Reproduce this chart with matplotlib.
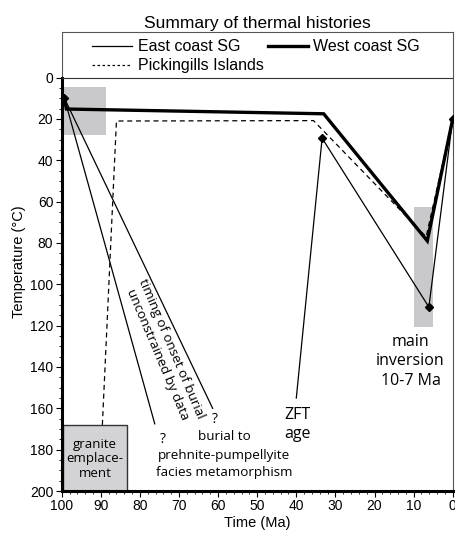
import matplotlib
matplotlib.use("Agg")
import matplotlib.pyplot as plt
from matplotlib.lines import Line2D
from matplotlib.patches import Rectangle
from matplotlib.ticker import MultipleLocator, FixedLocator

# ---- data (Time in Ma, Temperature in °C) ----
west_x = [99.3, 98.8, 33.0, 6.5, 0.0]
west_y = [10.0, 15.2, 17.5, 79.0, 20.0]

east1_x = [99.3, 76.2]
east1_y = [10.0, 167.5]
east2_x = [99.3, 61.4]
east2_y = [10.0, 160.0]
east3_x = [40.0, 33.4, 6.1, 0.0]
east3_y = [155.0, 29.3, 111.0, 20.0]

diamond_x = [99.3, 33.4, 6.1, 0.0]
diamond_y = [10.0, 29.3, 111.0, 20.0]

pick_x = [89.6, 86.0, 35.6, 6.8, 0.0]
pick_y = [168.0, 21.0, 20.8, 77.0, 20.0]

# shaded boxes: (x_old, x_young, T_top, T_bottom)
box_early = (100.0, 88.7, 4.5, 27.7)
box_inversion = (10.0, 5.0, 62.4, 120.7)
box_granite = (99.7, 83.2, 168.0, 200.0)

xticks = [100, 90, 80, 70, 60, 50, 40, 30, 20, 10, 0]
yticks = [0, 20, 40, 60, 80, 100, 120, 140, 160, 180, 200]

ann_font = ["Open Sans", "DejaVu Sans"]
ax_font = ["Liberation Sans", "DejaVu Sans"]
plt.rcParams['font.family'] = ax_font

fig = plt.figure(figsize=(4.56, 5.34), dpi=100)
ax = fig.add_axes([0.1353, 0.0805, 0.8575, 0.8601])
ax.set_xlim(100, 0)
ax.set_ylim(200, -22.2)

gray = "#c9c9cb"
# shaded boxes
x0, x1, t0, t1 = box_early
ax.add_patch(Rectangle((x1, t0), x0 - x1, t1 - t0, facecolor=gray, edgecolor="none", zorder=1))
x0, x1, t0, t1 = box_inversion
ax.add_patch(Rectangle((x1, t0), x0 - x1, t1 - t0, facecolor=gray, edgecolor="none", zorder=1))
x0, x1, t0, t1 = box_granite
ax.add_patch(Rectangle((x1, t0), x0 - x1, t1 - t0, facecolor="#d3d3d5", edgecolor="#333333",
                       linewidth=1.0, zorder=2))

# lines
ax.plot(west_x, west_y, color="black", linewidth=2.4, solid_joinstyle="miter", zorder=4)
for xs, ys in [(east1_x, east1_y), (east2_x, east2_y), (east3_x, east3_y)]:
    ax.plot(xs, ys, color="black", linewidth=0.9, zorder=4)
ax.plot(pick_x, pick_y, color="black", linewidth=0.9, linestyle=(0, (4, 3)), zorder=4)
ax.plot(diamond_x, diamond_y, linestyle="none", marker="D", markersize=4.5,
        color="black", zorder=5)

# frame
ax.axhline(0, color="#333333", linewidth=0.8, zorder=3)
for s in ["top", "right"]:
    ax.spines[s].set_linewidth(0.8)
    ax.spines[s].set_color("#555555")
ax.spines["bottom"].set_linewidth(2.2)
ax.spines["left"].set_linewidth(2.2)
ax.spines["left"].set_bounds(0, 200)
ax.axvline(100, ymin=200 / 222.2, ymax=1, color="#555555", linewidth=0.8)

ax.set_xticks(xticks)
ax.set_yticks(yticks)
ax.xaxis.set_minor_locator(MultipleLocator(2))
ax.yaxis.set_minor_locator(FixedLocator([v for v in range(5, 200, 5) if v % 20]))
ax.tick_params(axis="both", which="major", labelsize=10, length=4, width=0.8, direction="out", pad=2)
ax.tick_params(axis="both", which="minor", length=2, width=0.6, direction="out")

ax.set_xlabel("Time (Ma)", fontsize=10.5, labelpad=2)
ax.set_ylabel("Temperature (°C)", fontsize=10.5, labelpad=3)
ax.set_title("Summary of thermal histories", fontsize=12.5, pad=3)

# legend
handles = [Line2D([], [], color="black", linewidth=0.9),
           Line2D([], [], color="black", linewidth=0.9, linestyle=(0, (2, 2))),
           Line2D([], [], color="black", linewidth=2.4)]
labels = ["East coast SG", "Pickingills Islands", "West coast SG"]
ax.legend(handles, labels, ncol=2, loc="upper left", bbox_to_anchor=(0.062, 0.997),
          frameon=False, fontsize=11.5, handlelength=2.5, handletextpad=0.35,
          columnspacing=0.25, labelspacing=0.25, borderaxespad=0.0)

# annotations
ax.text(91.45, 184.5, "granite\nemplace-\nment", ha="center", va="center",
        fontsize=9.5, family=ann_font, linespacing=1.15, zorder=3)
ax.text(74.2, 175.0, "?", ha="center", va="center", fontsize=10, family=ann_font)
ax.text(60.8, 165.5, "?", ha="center", va="center", fontsize=10, family=ann_font)
ax.text(58.5, 173.6, "burial to", ha="center", va="center", fontsize=9.7, family=ann_font)
ax.text(58.5, 187.0, "prehnite-pumpellyite\nfacies metamorphism",
        ha="center", va="center", fontsize=9.7, family=ann_font, linespacing=1.4)
ax.text(39.8, 168.0, "ZFT\nage", ha="center", va="center", fontsize=11.5,
        family=ann_font, linespacing=1.25)
ax.text(10.8, 137.3, "main\ninversion\n10-7 Ma", ha="center", va="center",
        fontsize=11.5, family=ann_font, linespacing=1.32)
ax.text(73.8, 132.5, "timing of onset of burial\nunconstrained by data",
        ha="center", va="center", rotation=-67, rotation_mode="anchor",
        fontsize=9.7, family=ann_font, linespacing=1.2)

fig.savefig("out.png", dpi=100)
